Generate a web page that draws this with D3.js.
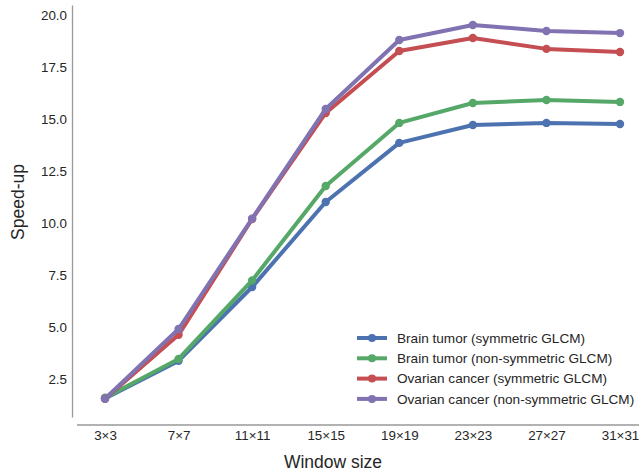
<!DOCTYPE html>
<html>
<head>
<meta charset="utf-8">
<script src="https://cdn.jsdelivr.net/npm/d3@7"></script>
<style>
	body { margin: 0; background: #fff; }
	text { font-family: "Liberation Sans", Arial, sans-serif; fill: #262626; }
</style>
</head>
<body>
<div id="chart"></div>
<script>
	const windowSizes = ["3×3", "7×7", "11×11", "15×15", "19×19", "23×23", "27×27", "31×31"];
	const seriesNames = [
		"Brain tumor (symmetric GLCM)",
		"Brain tumor (non-symmetric GLCM)",
		"Ovarian cancer (symmetric GLCM)",
		"Ovarian cancer (non-symmetric GLCM)"
	];
	const brainSym = [1.56, 3.37, 6.92, 11.01, 13.85, 14.71, 14.81, 14.76];
	const brainNonSym = [1.6, 3.46, 7.24, 11.78, 14.81, 15.77, 15.91, 15.82];
	const ovarianSym = [1.55, 4.62, 10.19, 15.29, 18.27, 18.89, 18.37, 18.22];
	const ovarianNonSym = [1.55, 4.9, 10.21, 15.48, 18.8, 19.52, 19.23, 19.13];
	const yTicks = [2.5, 5.0, 7.5, 10.0, 12.5, 15.0, 17.5, 20.0];
	const colors = ["#4C72B0", "#55A868", "#C44E52", "#8172B2"];

	const allSeries = [brainSym, brainNonSym, ovarianSym, ovarianNonSym];
	const width = 639, height = 475;

	const svg = d3.select("#chart").append("svg")
		.attr("width", width)
		.attr("height", height);

	const xScale = d3.scalePoint()
		.domain(windowSizes)
		.range([105, 620]);

	const yScale = d3.scaleLinear()
		.domain([0.67, 20.48])
		.range([417, 5]);

	// y axis, offset spine
	const yAxisG = svg.append("g")
		.attr("transform", "translate(72,0)")
		.call(d3.axisLeft(yScale).tickValues(yTicks).tickFormat(d3.format(".1f")).tickSize(0).tickPadding(5));
	yAxisG.select(".domain").attr("stroke", "#999").attr("stroke-width", 1.3);
	yAxisG.selectAll("text").style("font-size", "13.4px").attr("fill", "#262626");

	// x axis
	const xAxisG = svg.append("g")
		.attr("transform", "translate(0,425)")
		.call(d3.axisBottom(xScale).tickSize(0).tickPadding(5));
	xAxisG.select(".domain").attr("d", "M77,0H639").attr("stroke", "#999").attr("stroke-width", 1.3);
	xAxisG.selectAll("text").style("font-size", "13.4px").attr("fill", "#262626");

	svg.append("text")
		.attr("x", 333)
		.attr("y", 468)
		.attr("text-anchor", "middle")
		.style("font-size", "17.5px")
		.text("Window size");

	svg.append("text")
		.attr("transform", "translate(24,202) rotate(-90)")
		.attr("text-anchor", "middle")
		.style("font-size", "17.5px")
		.text("Speed-up");

	const line = d3.line()
		.x((d, i) => xScale(windowSizes[i]))
		.y(d => yScale(d));

	allSeries.forEach((values, k) => {
		const g = svg.append("g");
		g.append("path")
			.attr("d", line(values))
			.attr("fill", "none")
			.attr("stroke", colors[k])
			.attr("stroke-width", 4)
			.attr("stroke-linejoin", "round");
		g.selectAll("circle").data(values)
			.enter().append("circle")
			.attr("cx", (d, i) => xScale(windowSizes[i]))
			.attr("cy", d => yScale(d))
			.attr("r", 4.2)
			.attr("fill", colors[k]);
	});

	// legend
	const legend = svg.append("g").attr("transform", "translate(357,338)");
	seriesNames.forEach((name, k) => {
		const row = legend.append("g").attr("transform", `translate(0,${k * 20.3})`);
		row.append("line")
			.attr("x1", 0).attr("x2", 30)
			.attr("stroke", colors[k])
			.attr("stroke-width", 4);
		row.append("circle")
			.attr("cx", 15)
			.attr("r", 4)
			.attr("fill", colors[k]);
		row.append("text")
			.attr("x", 40)
			.attr("dy", "0.35em")
			.style("font-size", "13.6px")
			.text(name);
	});
</script>
</body>
</html>
